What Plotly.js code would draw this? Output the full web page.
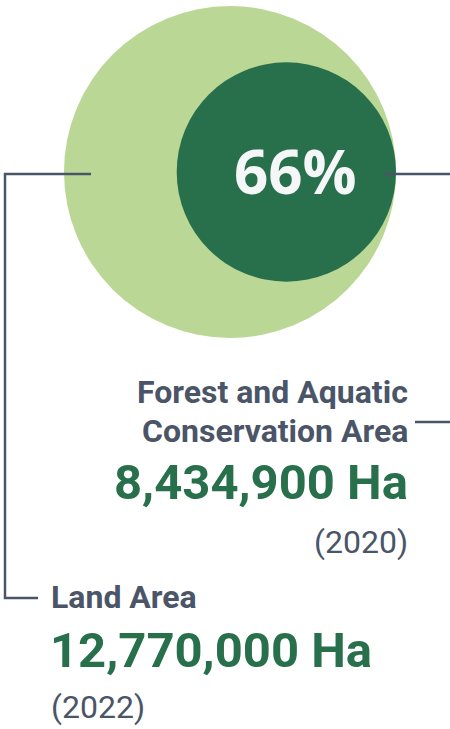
<!DOCTYPE html>
<html>
<head>
<meta charset="utf-8">
<script src="https://cdn.plot.ly/plotly-3.0.1.min.js"></script>
<style>
  html, body { margin: 0; padding: 0; background: #ffffff; }
  #chart { width: 450px; height: 729px; }
</style>
</head>
<body>
<div id="chart"></div>
<script>
// ---- data ----
const categories = ["Land Area", "Forest and Aquatic Conservation Area"];
const categoryLines = [["Land Area"], ["Forest and Aquatic", "Conservation Area"]];
const areasHa = [12770000, 8434900];
const years = ["2022", "2020"];
const unit = "Ha";

// ---- layout helpers ----
const W = 450, H = 729;
const PX_PER_MHA = 13;          // pixels per million hectares (circle radius scale)
const CX = 230, CY = 172;       // pixel centre of the big circle
const px2x = p => (p - CX) / PX_PER_MHA;
const px2y = p => (CY - p) / PX_PER_MHA;

const R = areasHa[0] / 1e6;
const r = areasHa[1] / 1e6;
const bigC = [0, 0];
const smallC = [R - r, 0];

const LIGHT = "#bbd796";
const DARK = "#28704b";
const SLATE = "#4a5568";
const GREEN_TXT = "#28704b";

const pct = Math.round(areasHa[1] / areasHa[0] * 100) + "%";
const fmt = v => v.toLocaleString("en-US") + " " + unit;

const shapes = [
  {type: "circle", xref: "x", yref: "y", x0: bigC[0] - R, x1: bigC[0] + R, y0: bigC[1] - R, y1: bigC[1] + R,
   fillcolor: LIGHT, line: {width: 0}, layer: "below"},
  {type: "circle", xref: "x", yref: "y", x0: smallC[0] - r, x1: smallC[0] + r, y0: smallC[1] - r, y1: smallC[1] + r,
   fillcolor: DARK, line: {width: 0}, layer: "below"},
  // left connector (land area)
  {type: "path", xref: "x", yref: "y",
   path: `M ${px2x(91)} ${px2y(174)} L ${px2x(5)} ${px2y(174)} L ${px2x(5)} ${px2y(598)} L ${px2x(38)} ${px2y(598)}`,
   line: {color: SLATE, width: 2.5}},
  // right connector (forest area)
  {type: "path", xref: "x", yref: "y",
   path: `M ${px2x(384)} ${px2y(174)} L ${px2x(460)} ${px2y(174)} L ${px2x(460)} ${px2y(422)} L ${px2x(415)} ${px2y(422)}`,
   line: {color: SLATE, width: 2.5}}
];

const labelFont = {family: "Roboto", size: 32, color: SLATE, weight: 700};
const valueFont = {family: "Roboto", size: 49, color: GREEN_TXT, weight: 700};
const yearFont = {family: "Roboto", size: 32, color: SLATE, weight: 400};

function ann(text, xp, yp, anchor, font) {
  return {text: text, x: px2x(xp), y: px2y(yp), xref: "x", yref: "y",
          xanchor: anchor, yanchor: "middle", showarrow: false, font: font, borderpad: 0};
}

const annotations = [
  {text: "<b>" + pct + "</b>", x: px2x(295), y: px2y(171), xref: "x", yref: "y",
   xanchor: "center", yanchor: "middle", showarrow: false, borderpad: 0,
   font: {family: "Open Sans", size: 60, color: "#f4f6f8", weight: 700}},
  ann(categoryLines[1][0], 409, 392, "right", labelFont),
  ann(categoryLines[1][1], 409, 431, "right", labelFont),
  ann(fmt(areasHa[1]), 409, 482, "right", valueFont),
  ann("(" + years[1] + ")", 409, 542, "right", yearFont),
  ann(categoryLines[0][0], 50, 597, "left", labelFont),
  ann(fmt(areasHa[0]), 49, 650, "left", valueFont),
  ann("(" + years[0] + ")", 50, 707, "left", yearFont)
];

const data = [{
  type: "scatter", mode: "markers", x: [bigC[0], smallC[0]], y: [bigC[1], smallC[1]],
  text: categories, marker: {opacity: 0, size: 1}, hoverinfo: "skip", showlegend: false
}];

const layout = {
  width: W, height: H,
  margin: {l: 0, r: 0, t: 0, b: 0, pad: 0},
  paper_bgcolor: "#ffffff", plot_bgcolor: "#ffffff",
  xaxis: {range: [px2x(0), px2x(W)], visible: false, fixedrange: true},
  yaxis: {range: [px2y(H), px2y(0)], visible: false, fixedrange: true},
  shapes: shapes,
  annotations: annotations,
  showlegend: false
};

Plotly.newPlot("chart", data, layout, {staticPlot: true, displayModeBar: false});
</script>
</body>
</html>
